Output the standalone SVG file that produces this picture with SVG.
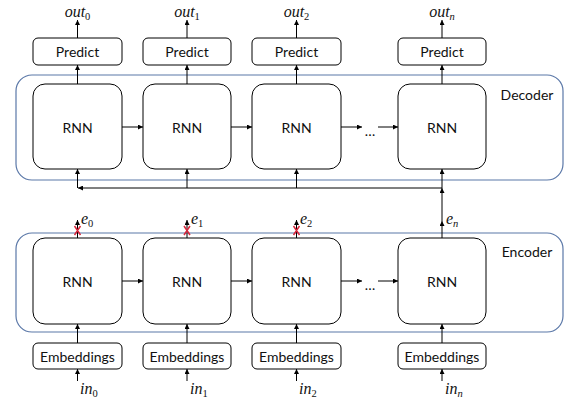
<svg xmlns="http://www.w3.org/2000/svg" width="569" height="401" viewBox="0 0 569 401">
<style>
.box{fill:#fff;stroke:#000;stroke-width:1}
.cont{fill:none;stroke:#5b78a8;stroke-width:1.2}
.t{font-family:Lato,"Open Sans",sans-serif;font-size:14px;fill:#111;text-anchor:middle;dominant-baseline:central}
.m{font-family:"Liberation Serif","DejaVu Serif",serif;font-style:italic;font-size:16px;fill:#111}
.s{font-size:10.5px;font-style:normal}
.si{font-size:10.5px;font-style:italic}
.a{fill:none;stroke:#000;stroke-width:1;marker-end:url(#ah)}
.x{stroke:#d8283c;stroke-width:1.5}
</style>
<defs>
<marker id="ah" viewBox="0 0 10 10" refX="10" refY="5" markerWidth="5" markerHeight="5" markerUnits="userSpaceOnUse" orient="auto">
<path d="M0,0 L10,5 L0,10 z" fill="#000"/>
</marker>
</defs>
<g id="decoder">
<rect class="cont" x="16" y="75" width="547" height="105" rx="16"/>
<text class="t" x="527" y="94">Decoder</text>
</g>
<g id="encoder">
<rect class="cont" x="16" y="233" width="547" height="99" rx="16"/>
<text class="t" x="527" y="251">Encoder</text>
</g>
<g id="predict0"><rect class="box" x="33" y="38" width="89" height="27" rx="5"/><text class="t" x="77.5" y="51.5">Predict</text></g>
<g id="predict1"><rect class="box" x="143" y="38" width="88" height="27" rx="5"/><text class="t" x="187" y="51.5">Predict</text></g>
<g id="predict2"><rect class="box" x="252" y="38" width="89" height="27" rx="5"/><text class="t" x="296.5" y="51.5">Predict</text></g>
<g id="predictn"><rect class="box" x="398" y="38" width="88" height="27" rx="5"/><text class="t" x="442" y="51.5">Predict</text></g>
<g id="dec_rnn0"><rect class="box" x="33" y="84" width="89" height="85" rx="12"/><text class="t" x="77.5" y="127">RNN</text></g>
<g id="dec_rnn1"><rect class="box" x="143" y="84" width="88" height="85" rx="12"/><text class="t" x="187" y="127">RNN</text></g>
<g id="dec_rnn2"><rect class="box" x="252" y="84" width="89" height="85" rx="12"/><text class="t" x="296.5" y="127">RNN</text></g>
<g id="dec_rnnn"><rect class="box" x="398" y="84" width="88" height="85" rx="12"/><text class="t" x="442" y="127">RNN</text></g>
<g id="enc_rnn0"><rect class="box" x="33" y="238" width="89" height="86" rx="12"/><text class="t" x="77.5" y="281">RNN</text></g>
<g id="enc_rnn1"><rect class="box" x="143" y="238" width="88" height="86" rx="12"/><text class="t" x="187" y="281">RNN</text></g>
<g id="enc_rnn2"><rect class="box" x="252" y="238" width="89" height="86" rx="12"/><text class="t" x="296.5" y="281">RNN</text></g>
<g id="enc_rnnn"><rect class="box" x="398" y="238" width="88" height="86" rx="12"/><text class="t" x="442" y="281">RNN</text></g>
<g id="emb0"><rect class="box" x="33" y="343" width="89" height="26" rx="5"/><text class="t" x="77.5" y="356">Embeddings</text></g>
<g id="emb1"><rect class="box" x="143" y="343" width="88" height="26" rx="5"/><text class="t" x="187" y="356">Embeddings</text></g>
<g id="emb2"><rect class="box" x="252" y="343" width="89" height="26" rx="5"/><text class="t" x="296.5" y="356">Embeddings</text></g>
<g id="embn"><rect class="box" x="398" y="343" width="88" height="26" rx="5"/><text class="t" x="442" y="356">Embeddings</text></g>
<g id="labels">
<text class="m" x="77.5" y="17" text-anchor="middle">out<tspan class="s" dy="3">0</tspan></text>
<text class="m" x="187" y="17" text-anchor="middle">out<tspan class="s" dy="3">1</tspan></text>
<text class="m" x="296.5" y="17" text-anchor="middle">out<tspan class="s" dy="3">2</tspan></text>
<text class="m" x="442" y="17" text-anchor="middle">out<tspan class="si" dy="3">n</tspan></text>
<text class="m" x="81" y="224">e<tspan class="s" dy="3">0</tspan></text>
<text class="m" x="191" y="224">e<tspan class="s" dy="3">1</tspan></text>
<text class="m" x="300" y="224">e<tspan class="s" dy="3">2</tspan></text>
<text class="m" x="446" y="224">e<tspan class="si" dy="3">n</tspan></text>
<text class="m" x="80" y="394">in<tspan class="s" dy="3">0</tspan></text>
<text class="m" x="190" y="394">in<tspan class="s" dy="3">1</tspan></text>
<text class="m" x="299" y="394">in<tspan class="s" dy="3">2</tspan></text>
<text class="m" x="445" y="394">in<tspan class="si" dy="3">n</tspan></text>
<text class="t" x="370" y="130">…</text>
<text class="t" x="370" y="284">…</text>
</g>
<g id="connectors">
<path class="a" d="M77.5,38V20"/><path class="a" d="M187,38V20"/><path class="a" d="M296.5,38V20"/><path class="a" d="M442,38V20"/>
<path class="a" d="M77.5,84V65"/><path class="a" d="M187,84V65"/><path class="a" d="M296.5,84V65"/><path class="a" d="M442,84V65"/>
<path class="a" d="M122,127H143"/><path class="a" d="M231,127H252"/><path class="a" d="M341,127H362"/><path class="a" d="M378,127H398"/>
<path class="a" d="M122,281H143"/><path class="a" d="M231,281H252"/><path class="a" d="M341,281H362"/><path class="a" d="M378,281H398"/>
<path class="a" d="M442,188H78"/>
<path class="a" d="M77.5,188V169"/><path class="a" d="M187,188V169"/><path class="a" d="M296.5,188V169"/><path class="a" d="M442,188V169"/>
<path class="a" d="M442,238V221"/><path class="a" d="M442,221V188"/>
<path class="a" d="M77.5,238V220"/><path class="a" d="M187,238V220"/><path class="a" d="M296.5,238V220"/>
<path class="a" d="M77.5,343V324"/><path class="a" d="M187,343V324"/><path class="a" d="M296.5,343V324"/><path class="a" d="M442,343V324"/>
<path class="a" d="M77.5,381V369"/><path class="a" d="M187,381V369"/><path class="a" d="M296.5,381V369"/><path class="a" d="M442,381V369"/>
<path class="x" d="M74.5,226L80.5,235M80.5,226L74.5,235M184,226L190,235M190,226L184,235M293.5,226L299.5,235M299.5,226L293.5,235"/>
</g>
</svg>
